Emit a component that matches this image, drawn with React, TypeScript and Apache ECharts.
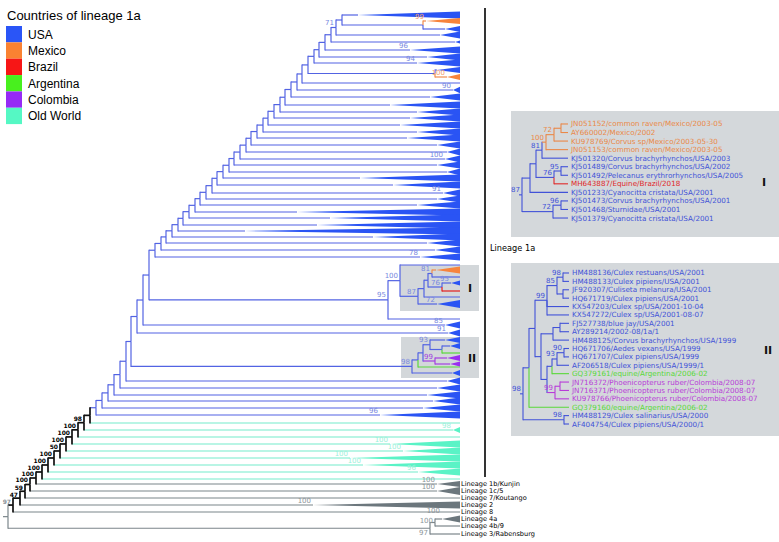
import React, { useEffect, useRef } from "react";
import * as echarts from "echarts";

// ---------------- legend ----------------
const legendNames = ["USA", "Mexico", "Brazil", "Argentina", "Colombia", "Old World"];
const legendKeys = ["usa", "mex", "bra", "arg", "col", "ow"];

// ---------------- main tree (depth units, rows) ----------------
const TIP_END = 452;
// backbone node depths, top -> bottom
const spineDepth = [334, 328, 323, 317, 311, 306, 300, 294, 289, 283, 277, 272, 266, 260, 255, 249, 243, 238, 232, 226,
  221, 215, 209, 204, 198, 192, 187, 181, 175, 170, 164, 158, 153, 147, 141, 135, 129, 123, 118, 112, 106, 100, 94, 88,
  82, 76, 70, 64, 58, 52, 46, 40, 34, 28, 22, 17, 12, 5, 0];
const spineColourRuns: [string, number][] = [["usa", 44], ["spine", 14], ["out", 1]];
// [node index, support, colour, label offset]
const spineSupport: [number, string, string, number][] = [
  [1, "71", "usa", -4.5], [45, "98", "spine", -4.5], [46, "100", "spine", -4.5], [47, "100", "spine", -4.5],
  [48, "100", "spine", -4.5], [49, "50", "spine", -4.5], [50, "100", "spine", -4.5], [51, "100", "spine", -4.5],
  [52, "100", "spine", -4.5], [53, "100", "spine", -4.5], [54, "100", "spine", -4.5], [55, "59", "spine", -4],
  [56, "47", "spine", -4], [57, "97", "out", -3.5],
];
// tip clades: [row, apex depth, half height, colour, support, name, support dy]
const mainTips: any[] = [
  [15, 350, 3.5, "usa"], "topPair", [35, 432, 3.4, "usa"], [42, 447, 1.5, "usa"], [50, 402, 3.4, "usa", "96"],
  [57, 419, 3.4, "usa"], [63, 409, 3.4, "usa", "94"], "mexicoPair", [83, 452, 0, "usa"], [90, 445, 3.2, "usa", "90"],
  [97, 422, 3.4, "usa"], [105, 382, 3.4, "usa"], [112, 409, 3.4, "usa"], [118, 402, 3.4, "usa"], [125, 392, 3.4, "usa"],
  [132, 409, 3.4, "usa"], [138, 399, 3.4, "usa"], [145, 429, 3.4, "usa"], [152, 439, 3.4, "usa"], [159, 437, 3.4, "usa", "100"],
  [165, 429, 3.4, "usa"], [172, 439, 3.4, "usa"], [178, 352, 3.4, "usa"], [185, 385, 3.4, "usa"], [193, 435, 3.4, "usa", "91"],
  [199, 429, 3.4, "usa"], [205, 409, 3.4, "usa"], [212, 289, 3.4, "usa"], [218, 322, 3.4, "usa"], [225, 309, 3.4, "usa"],
  [231, 237, 3.4, "usa"], [237, 365, 3.4, "usa"], [243, 419, 3.4, "usa"], [250, 427, 3.4, "usa"], [257, 412, 3.4, "usa", "78"],
  "clusterI", [325, 437, 3.4, "usa", "85"], [333, 440, 3.4, "usa", "91"], "clusterII",
  [381, 439, 3.4, "usa"], [388, 429, 3.4, "usa"], [395, 419, 3.4, "usa"], [401, 425, 3.4, "usa"], [408, 415, 3.4, "usa"],
  [415, 372, 3.6, "usa", "96"],
  [423, 452, 0, "ow"], [430, 445, 3, "ow", "98"], [437, 452, 0, "ow"], [444, 382, 3.5, "ow", "100"], [451, 395, 3.5, "ow", "100"],
  [458, 342, 3.5, "ow", "100"], [465, 355, 3.5, "ow", "100"], [472, 410, 3.5, "ow", "96"], [479, 452, 0, "ow"],
  [484, 429, 3, "out", "100", "Lineage 1b/Kunjin"], [491, 429, 4, "out", "100", "Lineage 1c/5"],
  [498, 452, 0, "out", "", "Lineage 7/Koutango"], [505, 305, 3.5, "out", "100", "Lineage 2"],
  [512, 452, 0, "out", "", "Lineage 8"], "lineage4and3",
];
// sub-clades: [node depth, colour, support, ...children]
const topPair = [415, "usa", "", [21, 418, 3, "mex", "99"], [29, 437, 3, "usa"]];
const mexicoPair = [427, "usa", "", [70, 429, 3, "usa"], [77, 439, 3, "mex", "100"]];
const clusterI = [380, "usa", "95",
  [392, "usa", "100",
    [265, 452, 0, "usa"],
    [410, "usa", "87",
      [416, "usa", "",
        [420, "usa", "",
          [424, "usa", "81", [270, 428, 3.5, "mex"], [277, 452, 0, "usa"]],
          [434, "usa", "76", [283, 443, 2.5, "usa", "95"], [291, 452, 0, "bra"]]],
        [297, 452, 0, "usa"]],
      [304, 429, 4, "usa", "72"]]],
  [319, 452, 0, "usa"]];
const clusterII = [404, "usa", "98",
  [410, "usa", "",
    [415, "usa", "",
      [422, "usa", "93", [340, 437, 3, "usa"], [434, "usa", "", [346, 442, 3, "usa"], [353, 452, 0, "arg"]]],
      [427, "col", "99", [358, 439, 3, "col"], [364, 442, 2.5, "col"]]],
    [367, 452, 0, "arg"]],
  [373, 444, 3, "usa"]];
const lineage4and3 = [422, "out", ["97", 5],
  [427, "out", ["100", -2], [519, 434, 3.5, "out", "100", "Lineage 4a", -8], [526, 452, 0, "out", "", "Lineage 4b/9"]],
  [534, 452, 0, "out", "", "Lineage 3/Rabensburg"]];
const SUBTREES: Record<string, any> = { topPair, mexicoPair, clusterI, clusterII, lineage4and3 };

// ---------------- inset I ----------------
const insetINames = [
  "JN051152/common raven/Mexico/2003-05", "AY660002/Mexico/2002", "KU978769/Corvus sp/Mexico/2003-05-30",
  "JN051153/common raven/Mexico/2003-05", "KJ501320/Corvus brachyrhynchos/USA/2003",
  "KJ501489/Corvus brachyrhynchos/USA/2002", "KJ501492/Pelecanus erythrorhynchos/USA/2005",
  "MH643887/Equine/Brazil/2018", "KJ501233/Cyanocitta cristata/USA/2001", "KJ501473/Corvus brachyrhynchos/USA/2001",
  "KJ501468/Sturnidae/USA/2001", "KJ501379/Cyanocitta cristata/USA/2001",
];
const insetICountry = ["mex", "mex", "mex", "mex", "usa", "usa", "usa", "bra", "usa", "usa", "usa", "usa"];
const insetITree = [11, "usa", "87",
  [19, "usa", "",
    [25, "usa", "",
      [31, "usa", "81",
        [35, "mex", "100", [43, "mex", "72", [50, "mex", "", 0, 1], 2], 3],
        4],
      [43, "usa", "76", [50, "usa", "95", 5, 6], 7]],
    8],
  [42, "usa", "72", [50, "usa", "96", 9, 10], 11]];

// ---------------- inset II ----------------
const insetIINames = [
  "HM488136/Culex restuans/USA/2001", "HM488133/Culex pipiens/USA/2001", "JF920307/Culiseta melanura/USA/2001",
  "HQ671719/Culex pipiens/USA/2001", "KX547203/Culex sp/USA/2001-10-04", "KX547272/Culex sp/USA/2001-08-07",
  "FJ527738/blue jay/USA/2001", "AY289214/2002-08/1a/1", "HM488125/Corvus brachyrhynchos/USA/1999",
  "HQ671706/Aedes vexans/USA/1999", "HQ671707/Culex pipiens/USA/1999", "AF206518/Culex pipiens/USA/1999/1",
  "GQ379161/equine/Argentina/2006-02", "JN716372/Phoenicopterus ruber/Colombia/2008-07",
  "JN716371/Phoenicopterus ruber/Colombia/2008-07", "KU978766/Phoenicopterus ruber/Colombia/2008-07",
  "GQ379160/equine/Argentina/2006-02", "HM488129/Culex salinarius/USA/2000", "AF404754/Culex pipiens/USA/2000/1",
];
const insetIICountry = ["usa", "usa", "usa", "usa", "usa", "usa", "usa", "usa", "usa", "usa", "usa", "usa", "arg",
  "col", "col", "col", "arg", "usa", "usa"];
const insetIITree = [12, "usa", "98",
  [18, "usa", "",
    [24, "usa", "",
      [36, "usa", "99", [46, "usa", "85", [52, "usa", "98", 0, 1], [52, "usa", "", 2, 3]], 4, 5],
      [30, "usa", "",
        [42, "usa", "", [49, "usa", "", 6, 7], 8],
        [36, "usa", "",
          [41, "usa", "", [46, "usa", "93", [53, "usa", "90", 9, 10], 11], 12],
          [44, "col", "99", [49, "col", "", 13, 14], 15]]]],
    16],
  [53, "usa", "98", 17, 18]];

// ---------------- colours ----------------
const FILL: Record<string, string> = { usa: "#2a54f4", mex: "#f7843c", bra: "#ee1c1c", arg: "#4fe223", col: "#9a2ef0", ow: "#5af3c6", out: "#6c777d", spine: "#111" };
const STROKE: Record<string, string> = { usa: "#5263e3", mex: "#f08c4e", bra: "#e51e1e", arg: "#5ad83c", col: "#a440e2", ow: "#74eccb", out: "#7b858a", spine: "#111" };
const SUP: Record<string, string> = { usa: "#7888e0", mex: "#f3a06c", bra: "#e04040", arg: "#5ad83c", col: "#a040e0", ow: "#9cf0da", out: "#8d959a", spine: "#000" };
const LEGEND_FILL: Record<string, string> = { usa: "#2a55f7", mex: "#fa8232", bra: "#f71616", arg: "#48f01e", col: "#962af5", ow: "#55f8c4" };
const INSET: Record<string, string> = { usa: "#4152d8", mex: "#ea8848", bra: "#e02828", arg: "#58d838", col: "#b83cd8" };
const FONT = "'DejaVu Sans', sans-serif";

interface TNode {
  x: number; y: number; px: number | null; key: string; leaf: boolean; half: number;
  support: string; supportKey: string; supportDy: number; name: string;
  segs: { y1: number; y2: number; key: string }[];
}

function build(spec: any, out: TNode[], isLeaf: (s: any) => boolean, mkLeaf: (s: any) => TNode): TNode {
  if (isLeaf(spec)) { const l = mkLeaf(spec); out.push(l); return l; }
  const [depth, key, sup, ...kids] = spec;
  const n: TNode = {
    x: depth, y: 0, px: null, key, leaf: false, half: 0,
    support: Array.isArray(sup) ? sup[0] : sup, supportKey: key, supportDy: Array.isArray(sup) ? sup[1] : -4.5,
    name: "", segs: [],
  };
  out.push(n);
  const kn = kids.map((k: any) => build(k, out, isLeaf, mkLeaf));
  n.y = (kn[0].y + kn[kn.length - 1].y) / 2;
  kn.forEach((c: TNode) => { c.px = depth; n.segs.push({ y1: n.y, y2: c.y, key: c.leaf ? c.key : key }); });
  return n;
}

function buildMain(): TNode[] {
  const nodes: TNode[] = [];
  const isLeaf = (s: any) => typeof s[1] === "number";
  const mkLeaf = (s: any): TNode => ({
    x: s[1], y: s[0], px: null, key: s[3], leaf: true, half: s[2], support: s[4] || "", supportKey: s[3],
    supportDy: s[6] !== undefined ? s[6] : -4.5, name: s[5] || "", segs: [],
  });
  const tip = (i: number) => { const t = mainTips[i]; return build(typeof t === "string" ? SUBTREES[t] : t, nodes, isLeaf, mkLeaf); };
  const keys: string[] = [];
  spineColourRuns.forEach(([k, c]) => { for (let i = 0; i < c; i++) keys.push(k); });
  const sup = new Map(spineSupport.map((s) => [s[0], s]));
  let upper: TNode | null = null;
  spineDepth.forEach((d, k) => {
    const kids = k === 0 ? [tip(0), tip(1)] : [upper as TNode, tip(k + 1)];
    const s = sup.get(k);
    const n: TNode = {
      x: d, y: (kids[0].y + kids[1].y) / 2, px: null, key: keys[k], leaf: false, half: 0,
      support: s ? s[1] : "", supportKey: s ? s[2] : "usa", supportDy: s ? s[3] : -4.5, name: "", segs: [],
    };
    kids.forEach((c) => { c.px = d; n.segs.push({ y1: n.y, y2: c.y, key: keys[k] }); });
    nodes.push(n);
    upper = n;
  });
  (upper as any).px = -5;
  return nodes;
}

function buildInset(tree: any, names: string[], country: string[], end: number): TNode[] {
  const nodes: TNode[] = [];
  const root = build(tree, nodes, (s) => typeof s === "number", (i: number) => ({
    x: end, y: i, px: null, key: country[i], leaf: true, half: 0, support: "", supportKey: country[i],
    supportDy: 0, name: names[i], segs: [],
  }));
  root.px = root.x - 3;
  return nodes;
}

interface Style {
  lw: number; stroke: Record<string, string>; sup: Record<string, string>; names: Record<string, string>;
  supFont: string; spineFont: string; nameFont: string; nameDx: number;
}

const makeRender = (nodes: TNode[], end: number, st: Style) => (params: any, api: any) => {
  const n = nodes[params.dataIndex];
  const P = (x: number, y: number) => api.coord([x, y]);
  const els: any[] = [];
  const [cx, cy] = P(n.x, n.y);
  const lwOf = (k: string) => (k === "spine" ? 1.7 : st.lw);
  if (n.px !== null) {
    const sx = P(n.px, n.y)[0];
    const ex = n.leaf && n.half === 0 ? P(end, n.y)[0] : cx;
    els.push({ type: "line", shape: { x1: sx, y1: cy, x2: ex, y2: cy }, style: { stroke: st.stroke[n.key], lineWidth: lwOf(n.key) }, z2: 1 });
  }
  n.segs.forEach((s) => {
    const a = P(n.x, s.y1), b = P(n.x, s.y2);
    const d = s.y2 > s.y1 ? 0.5 : -0.5;
    els.push({ type: "line", shape: { x1: a[0], y1: a[1], x2: b[0], y2: b[1] + d }, style: { stroke: st.stroke[s.key], lineWidth: lwOf(s.key) }, z2: 1 });
  });
  if (n.leaf && n.half > 0) {
    const a = P(end, n.y - n.half), b = P(end, n.y + n.half);
    els.push({ type: "polygon", shape: { points: [[cx, cy], a, b] }, style: { fill: FILL[n.key] }, z2: 2 });
  }
  if (n.support) {
    const font = n.key === "spine" ? st.spineFont : st.supFont;
    els.push({ type: "text", x: cx - 2, y: cy + n.supportDy, style: { text: n.support, fill: st.sup[n.supportKey], font, align: "right", verticalAlign: "middle", textAlign: "right", textVerticalAlign: "middle" }, z2: 5 });
  }
  if (n.name) {
    const e = P(end, n.y);
    els.push({ type: "text", x: e[0] + st.nameDx, y: e[1], style: { text: n.name, fill: st.names[n.key], font: st.nameFont, align: "left", verticalAlign: "middle", textAlign: "left", textVerticalAlign: "middle" }, z2: 5 });
  }
  return { type: "group", children: els };
};

const txt = (x: number, y: number, text: string, font: string, fill = "#000", align = "left") => ({
  type: "text", x, y, z: 5,
  style: { text, font, fill, align, verticalAlign: "middle", textAlign: align, textVerticalAlign: "middle" },
});

export default function App() {
  const ref = useRef<HTMLDivElement>(null);
  useEffect(() => {
    if (!ref.current) return;
    const chart = echarts.init(ref.current, undefined, { renderer: "svg" });
    const mainNodes = buildMain();
    const iNodes = buildInset(insetITree, insetINames, insetICountry, 57);
    const iiNodes = buildInset(insetIITree, insetIINames, insetIICountry, 58);
    const blackNames: Record<string, string> = { out: "#000", usa: "#000", ow: "#000" };
    const mainStyle: Style = { lw: 1.2, stroke: STROKE, sup: SUP, names: blackNames, supFont: `7px ${FONT}`, spineFont: `bold 6px ${FONT}`, nameFont: `6.6px ${FONT}`, nameDx: 1 };
    const insetStyle: Style = { lw: 1.1, stroke: INSET, sup: INSET, names: INSET, supFont: `7px ${FONT}`, spineFont: `7px ${FONT}`, nameFont: `7.2px ${FONT}`, nameDx: 3 };

    const graphic: any[] = [
      { type: "rect", z: 0, shape: { x: 400, y: 265, width: 79, height: 46 }, style: { fill: "#d3d7da" } },
      { type: "rect", z: 0, shape: { x: 401, y: 337, width: 78, height: 41 }, style: { fill: "#d3d7da" } },
      { type: "rect", z: 0, shape: { x: 511, y: 111, width: 268, height: 126 }, style: { fill: "#d4d8db" } },
      { type: "rect", z: 0, shape: { x: 511, y: 263, width: 268, height: 173 }, style: { fill: "#d4d8db" } },
      txt(470, 288, "I", `bold 11px ${FONT}`, "#111", "center"),
      txt(472, 358, "II", `bold 11px ${FONT}`, "#111", "center"),
      txt(764, 182, "I", `bold 11px ${FONT}`, "#111", "center"),
      txt(768, 350, "II", `bold 11px ${FONT}`, "#111", "center"),
      { type: "line", z: 5, shape: { x1: 485, y1: 8, x2: 485, y2: 477 }, style: { stroke: "#000", lineWidth: 1.6 } },
      txt(490, 248, "Lineage 1a", `8.2px ${FONT}`),
      txt(7, 15, "Countries of lineage 1a", "13px 'Liberation Sans', Arial, sans-serif"),
    ];
    legendNames.forEach((nm, i) => {
      const top = 26 + i * 16.35;
      graphic.push({ type: "rect", z: 5, shape: { x: 6, y: top, width: 16, height: 16.35 }, style: { fill: LEGEND_FILL[legendKeys[i]] } });
      graphic.push(txt(28, top + 8.5, nm, "12px 'Liberation Sans', Arial, sans-serif"));
    });

    const hidden = { show: false, splitLine: { show: false } };
    chart.setOption({
      animation: false,
      backgroundColor: "#ffffff",
      grid: [
        { left: 8, top: 0, width: 452, height: 542 },
        { left: 511, top: 119.7, width: 60, height: 102.6 },
        { left: 511, top: 268.8, width: 60, height: 159.4 },
      ],
      xAxis: [
        { type: "value", gridIndex: 0, min: 0, max: 452, ...hidden },
        { type: "value", gridIndex: 1, min: 0, max: 60, ...hidden },
        { type: "value", gridIndex: 2, min: 0, max: 60, ...hidden },
      ],
      yAxis: [
        { type: "value", gridIndex: 0, min: 0, max: 542, inverse: true, ...hidden },
        { type: "value", gridIndex: 1, min: -0.5, max: 11.5, inverse: true, ...hidden },
        { type: "value", gridIndex: 2, min: -0.5, max: 18.5, inverse: true, ...hidden },
      ],
      graphic,
      series: [
        { type: "custom", xAxisIndex: 0, yAxisIndex: 0, clip: false, silent: true, z: 2, renderItem: makeRender(mainNodes, TIP_END, mainStyle), data: mainNodes.map((n) => [n.x, n.y]) },
        { type: "custom", xAxisIndex: 1, yAxisIndex: 1, clip: false, silent: true, z: 2, renderItem: makeRender(iNodes, 57, insetStyle), data: iNodes.map((n) => [n.x, n.y]) },
        { type: "custom", xAxisIndex: 2, yAxisIndex: 2, clip: false, silent: true, z: 2, renderItem: makeRender(iiNodes, 58, insetStyle), data: iiNodes.map((n) => [n.x, n.y]) },
      ],
    });
    return () => chart.dispose();
  }, []);
  return <div ref={ref} style={{ position: "absolute", left: 0, top: 0, width: 779, height: 542 }} />;
}
